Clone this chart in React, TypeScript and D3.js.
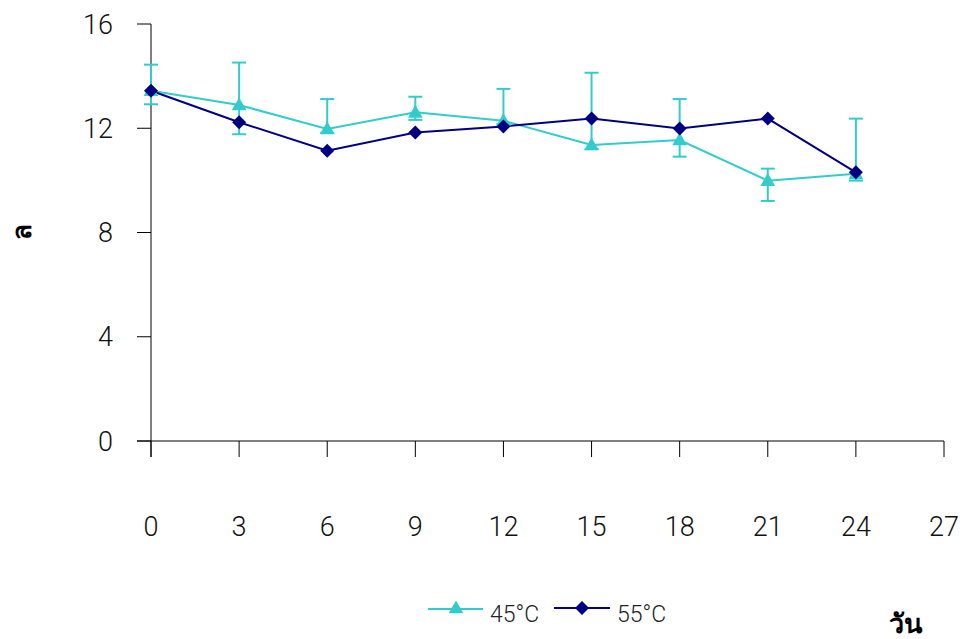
import React from "react";
import * as d3 from "d3";

const days = [0, 3, 6, 9, 12, 15, 18, 21, 24];
const s45 = [13.44, 12.89, 11.97, 12.61, 12.29, 11.36, 11.55, 9.99, 10.25];
const s45Upper = [14.44, 14.52, 13.12, 13.21, 13.51, 14.13, 13.12, 10.45, 12.37];
const s45Lower = [12.92, 11.77, 11.82, 12.32, 12.15, 11.2, 10.91, 9.21, 9.99];
const s55 = [13.44, 12.23, 11.14, 11.84, 12.07, 12.37, 11.99, 12.37, 10.31];
const xTicks = [0, 3, 6, 9, 12, 15, 18, 21, 24, 27];
const yTicks = [0, 4, 8, 12, 16];
const seriesNames = ["45°C", "55°C"];

const C45 = "#33CCCC";
const C55 = "#000080";
const FONT = "Roboto, 'Liberation Sans', Arial, sans-serif";

export default function App() {
  const x = d3.scaleLinear().domain([0, 27]).range([151, 944]);
  const y = d3.scaleLinear().domain([0, 16]).range([441, 24]);
  const line = d3
    .line<number>()
    .x((_, i) => x(days[i]))
    .y((d) => y(d));
  const tri = d3.symbol().type(d3.symbolTriangle).size(95)();
  const dia = (cx: number, cy: number, r: number) =>
    `M${cx},${cy - r}L${cx + r},${cy}L${cx},${cy + r}L${cx - r},${cy}Z`;
  const cap = 7;

  return (
    <svg
      width={968}
      height={639}
      style={{ position: "absolute", left: 0, top: 0, background: "#fff" }}
      fontFamily={FONT}
    >
      {/* axes */}
      <line x1={151} x2={151} y1={y(16)} y2={457} stroke="#000" strokeWidth={1} />
      <line x1={137} x2={944} y1={y(0)} y2={y(0)} stroke="#000" strokeWidth={1} />
      {yTicks.map((t) => (
        <g key={"y" + t}>
          <line x1={137} x2={151} y1={y(t)} y2={y(t)} stroke="#000" />
          <text x={113} y={y(t)} dy="0.36em" textAnchor="end" fontSize={27} fontWeight={300} fill="#111">
            {t}
          </text>
        </g>
      ))}
      {xTicks.map((t) => (
        <g key={"x" + t}>
          <line x1={x(t)} x2={x(t)} y1={y(0)} y2={457} stroke="#000" />
          <text x={x(t)} y={526} dy="0.36em" textAnchor="middle" fontSize={27} fontWeight={300} fill="#111">
            {t}
          </text>
        </g>
      ))}
      <text
        transform="translate(22,232) rotate(-90)"
        textAnchor="middle"
        dy="0.35em"
        fontSize={26}
        fontWeight="bold"
        fill="#000"
      >
        ล
      </text>
      <text x={905} y={633} textAnchor="middle" fontSize={27} fontWeight="bold" fill="#000">
        วัน
      </text>

      {/* error bars 45 */}
      {days.map((d, i) => (
        <g key={"e" + d} stroke={C45} strokeWidth={2}>
          <line x1={x(d)} x2={x(d)} y1={y(s45Upper[i])} y2={y(s45Lower[i])} />
          <line x1={x(d) - cap} x2={x(d) + cap} y1={y(s45Upper[i])} y2={y(s45Upper[i])} />
          <line x1={x(d) - cap} x2={x(d) + cap} y1={y(s45Lower[i])} y2={y(s45Lower[i])} />
        </g>
      ))}

      {/* lines */}
      <path d={line(s45) || ""} fill="none" stroke={C45} strokeWidth={2} />
      <path d={line(s55) || ""} fill="none" stroke={C55} strokeWidth={2} />
      {s45.map((v, i) => (
        <path key={"t" + i} d={tri} transform={`translate(${x(days[i])},${y(v) + 1})`} fill={C45} />
      ))}
      {s55.map((v, i) => (
        <path key={"d" + i} d={dia(x(days[i]), y(v), 7)} fill={C55} />
      ))}

      {/* legend */}
      <line x1={428} x2={483} y1={609} y2={609} stroke={C45} strokeWidth={2} />
      <path d={tri} transform="translate(456,609)" fill={C45} />
      <text x={490} y={622} fontSize={23} fontWeight={300} fill="#222">
        {seriesNames[0]}
      </text>
      <line x1={554} x2={610} y1={608} y2={608} stroke={C55} strokeWidth={2} />
      <path d={dia(582, 608, 7)} fill={C55} />
      <text x={617} y={622} fontSize={23} fontWeight={300} fill="#222">
        {seriesNames[1]}
      </text>
    </svg>
  );
}
